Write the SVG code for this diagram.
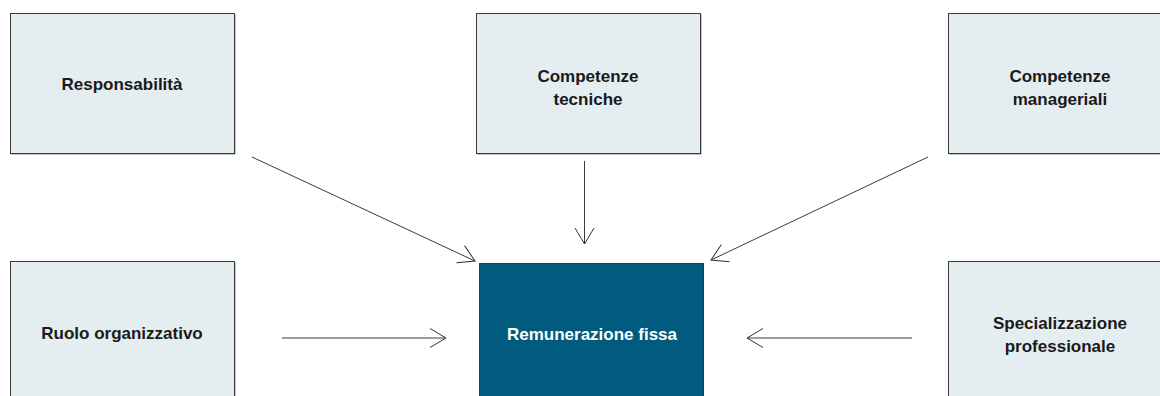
<svg xmlns="http://www.w3.org/2000/svg" width="1160" height="396" viewBox="0 0 1160 396">
<style>
.box{fill:#e4edf0;stroke:#3a3a3a;stroke-width:1}
.shadow{fill:#8a8a8a}
.dark{fill:#005b7e;stroke:#2a3a40;stroke-width:1}
.lbl{font-family:"Liberation Sans",Arial,sans-serif;font-weight:bold;font-size:17px;fill:#1a1a1a;text-anchor:middle}
.lblw{font-family:"Liberation Sans",Arial,sans-serif;font-weight:bold;font-size:17px;fill:#ffffff;text-anchor:middle}
.con{stroke:#3c3c3c;stroke-width:1;fill:none;marker-end:url(#arr)}
</style>
<defs>
<marker id="arr" markerUnits="userSpaceOnUse" markerWidth="20" markerHeight="22" refX="16.5" refY="10" orient="auto" viewBox="0 0 20 22">
<path d="M0.5,0.5 L16.5,10 L0.5,19.5" fill="none" stroke="#333" stroke-width="1"/>
</marker>
</defs>
<rect width="1160" height="396" fill="#ffffff"/>
<g id="node-responsabilita">
<rect class="shadow" x="11.5" y="14.5" width="224" height="140"/>
<rect class="box" x="10.5" y="13.5" width="224" height="140"/>
<text class="lbl" x="122" y="90">Responsabilità</text>
</g>
<g id="node-competenze-tecniche">
<rect class="shadow" x="477.5" y="14.5" width="224" height="140"/>
<rect class="box" x="476.5" y="13.5" width="224" height="140"/>
<text class="lbl" x="588" y="82">Competenze</text>
<text class="lbl" x="588" y="105">tecniche</text>
</g>
<g id="node-competenze-manageriali">
<rect class="shadow" x="949.5" y="14.5" width="224" height="140"/>
<rect class="box" x="948.5" y="13.5" width="224" height="140"/>
<text class="lbl" x="1060" y="82">Competenze</text>
<text class="lbl" x="1060" y="105">manageriali</text>
</g>
<g id="node-ruolo-organizzativo">
<rect class="shadow" x="11.5" y="262.5" width="224" height="140"/>
<rect class="box" x="10.5" y="261.5" width="224" height="140"/>
<text class="lbl" x="122" y="339">Ruolo organizzativo</text>
</g>
<g id="node-remunerazione-fissa">
<rect class="dark" x="479.5" y="263.5" width="224" height="140"/>
<text class="lblw" x="592" y="340">Remunerazione fissa</text>
</g>
<g id="node-specializzazione-professionale">
<rect class="shadow" x="949.5" y="262.5" width="224" height="140"/>
<rect class="box" x="948.5" y="261.5" width="224" height="140"/>
<text class="lbl" x="1060" y="329">Specializzazione</text>
<text class="lbl" x="1060" y="352">professionale</text>
</g>
<g id="connectors">
<line class="con" x1="252" y1="157" x2="475" y2="261"/>
<line class="con" x1="584.5" y1="161" x2="584.5" y2="244"/>
<line class="con" x1="928" y1="157" x2="711" y2="260"/>
<line class="con" x1="282" y1="338" x2="446" y2="338"/>
<line class="con" x1="912" y1="338" x2="747" y2="338"/>
</g>
</svg>
